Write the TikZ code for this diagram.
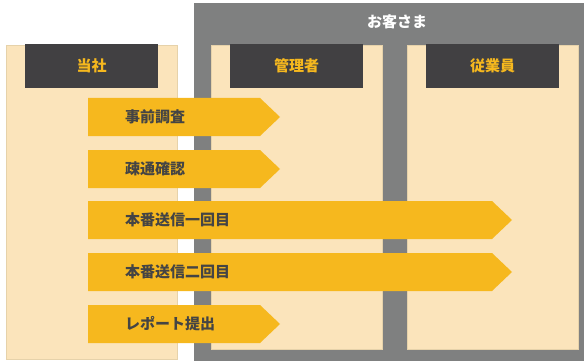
\documentclass[tikz,border=0pt]{standalone}
\usepackage{fontspec}
\setmainfont{Noto Sans CJK JP}
\definecolor{beige}{HTML}{FBE4BB}
\definecolor{beigeedge}{HTML}{E6D2AA}
\definecolor{outergray}{HTML}{7F8080}
\definecolor{headdark}{HTML}{414042}
\definecolor{arroworange}{HTML}{F6B81E}
\definecolor{textdark}{HTML}{444444}
\tikzset{
  panel/.style={fill=beige, draw=beigeedge, line width=0.6pt},
  headbox/.style={fill=headdark, draw=none},
  headtext/.style={text=arroworange, font=\bfseries\fontsize{15}{17}\selectfont},
  steparrow/.style={fill=arroworange, draw=none},
  steptext/.style={text=textdark, font=\bfseries\fontsize{15}{17}\selectfont, anchor=west, inner sep=0pt}
}
\begin{document}
\begin{tikzpicture}[x=1pt,y=-1pt]
\useasboundingbox (0,0) rectangle (584,361);
% outer customer box
\fill[outergray] (194,3) rectangle (584,361);
\node[text=white, font=\bfseries\fontsize{15}{17}\selectfont] (okyaku) at (397,22) {お客さま};
% panels
\draw[panel] (6,45) rectangle (177,359);
\draw[panel] (211,45) rectangle (382,349);
\draw[panel] (407,45) rectangle (578,349);
% headers
\fill[headbox] (25,44) rectangle (158,88);
\node[headtext] (tousha) at (91.5,66) {当社};
\fill[headbox] (230,44) rectangle (363,88);
\node[headtext] (kanri) at (296.5,66) {管理者};
\fill[headbox] (426,44) rectangle (559,88);
\node[headtext] (juugyou) at (492.5,66) {従業員};
% step arrows
\fill[steparrow] (88,98) -- (260,98) -- (280,117) -- (260,136) -- (88,136) -- cycle;
\node[steptext] (s1) at (125,117) {事前調査};
\fill[steparrow] (88,150) -- (260,150) -- (280,169) -- (260,188) -- (88,188) -- cycle;
\node[steptext] (s2) at (125,169) {疎通確認};
\fill[steparrow] (88,201) -- (492,201) -- (512,220) -- (492,239) -- (88,239) -- cycle;
\node[steptext] (s3) at (125,220) {本番送信一回目};
\fill[steparrow] (88,253) -- (492,253) -- (512,272) -- (492,291) -- (88,291) -- cycle;
\node[steptext] (s4) at (125,272) {本番送信二回目};
\fill[steparrow] (88,305) -- (260,305) -- (280,324) -- (260,343) -- (88,343) -- cycle;
\node[steptext] (s5) at (125,324) {レポート提出};
\end{tikzpicture}
\end{document}
